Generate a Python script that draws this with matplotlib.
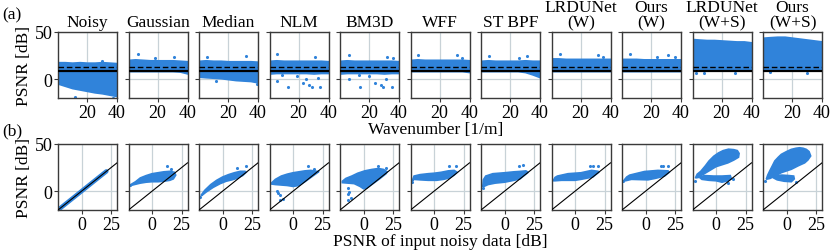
import numpy as np
import matplotlib
matplotlib.use('Agg')
import matplotlib.pyplot as plt

plt.rcParams['font.family'] = ['Liberation Serif', 'DejaVu Serif']
plt.rcParams['mathtext.fontset'] = 'stix'

BLUE = '#3083da'
GRID = '#c8d2d7'
SPINE = '#3a3a3a'

titles = ['Noisy', 'Gaussian', 'Median', 'NLM', 'BM3D', 'WFF', 'ST BPF',
          'LRDUNet\n(W)', 'Ours\n(W)', 'LRDUNet\n(W+S)', 'Ours\n(W+S)']

# ---- row (a): PSNR vs wavenumber, band envelopes
wn = [1, 5, 10, 15, 20, 25, 30, 35, 40]
band_hi = [
    [18, 18, 17.5, 18, 17.5, 17.5, 18, 17.5, 17],
    [20.5, 21, 20.5, 20, 20, 20, 20, 19.5, 19],
    [19.5, 20, 19.5, 19.5, 19, 19, 19, 19, 18.5],
    [19.5, 20, 19.5, 19.5, 19.5, 19.5, 19.5, 19.5, 19],
    [19.5, 20, 19.5, 19.5, 19.5, 19.5, 19.5, 19.5, 19],
    [20.5, 21, 20.5, 20.5, 20.5, 20.5, 20.5, 20.5, 20],
    [19.5, 20, 19.5, 19.5, 19.5, 19.5, 20, 19.5, 19.5],
    [22, 22, 21.5, 21.5, 21.5, 21.5, 21.5, 21.5, 21.5],
    [21.5, 21.5, 21.5, 21, 21, 21, 21, 21, 21],
    [42.5, 42, 41.5, 41.5, 41, 40.5, 40, 40, 39],
    [44, 44.5, 45, 45, 44, 43, 42, 41, 40],
]
band_lo = [
    [-5, -7, -9.5, -11, -12.5, -14, -15, -16.5, -18],
    [8.5, 8.5, 8.5, 8.5, 8.5, 8.5, 8.5, 8, 6],
    [2.5, 2, 1.5, 1, 0, -1, -1.5, -2, -3.5],
    [6, 6.5, 6.5, 6.5, 6.5, 6.5, 6, 6.5, 6.5],
    [6, 6.5, 6.5, 6.5, 6.5, 6.5, 6, 6.5, 6.5],
    [8.5, 8.5, 8.5, 8.5, 8.5, 8.5, 8.5, 8.5, 7.5],
    [8.5, 8.5, 8.5, 8.5, 8.5, 8.5, 7.5, 5, 2],
    [8.5, 8.5, 8.5, 8.5, 8.5, 8.5, 8.5, 8.5, 8.5],
    [8.5, 8.5, 8.5, 8.5, 8.5, 8.5, 8.5, 8.5, 8.5],
    [9.5, 9.5, 9.5, 9.5, 9.5, 9.5, 9.5, 9.5, 9.5],
    [9.5, 9.5, 9.5, 9.5, 9.5, 9.5, 9.5, 9.5, 9.5],
]
out_a = [
    [(30, 19), (12, -19), (37, -20)],
    [(7, 26.5), (31, 23), (18, 22)],
    [(6, 23), (32, 25), (39, -5), (12, -2)],
    [(5.6, 26.5), (31, 23), (13, -8.6), (22.6, -4), (26.7, -6), (28.7, -8.6),
     (34.4, -8.6), (5.6, -1.5), (24.9, 0.6), (32.7, 1.5), (19, 3), (9, 4)],
    [(6.3, 26), (32.3, 24), (36, 22), (14.2, -8.6), (23.7, -4.3), (27.7, -5.7),
     (29.3, -8.6), (35, -8.6), (6.8, -0.2), (31.2, -0.2), (13.5, 4), (20, 3)],
    [(5.7, 26), (31.5, 25.8), (35.3, 22)],
    [(6, 25), (31.6, 25), (26, 22)],
    [(6, 26.5), (31.5, 26), (35, 23)],
    [(6, 26.5), (31.5, 26), (24, 23.5), (36, 23)],
    [(8, 6), (28.7, 6.5), (3, 7)],
    [(5, 7.5), (30, 7)],
]
solid_level = 8.5
dashed_level = 12.5

# ---- row (b): output PSNR vs input PSNR, cloud outlines
noisy_b_in = [-20, 21]
noisy_b_out = [-20, 21]
clouds_b = [
    [],
    [[(-18, 7), (-14, 10), (-10, 14), (-5, 16.5), (0, 18.5), (5, 19.5), (10, 20.5),
      (15, 21), (19, 20), (20, 17), (18, 13), (15, 11.5), (10, 10.5), (5, 10),
      (0, 10), (-5, 9.5), (-10, 8.5), (-15, 7), (-18, 6)]],
    [[(-18, -4), (-15, 1), (-10, 7), (-5, 11.5), (0, 15), (5, 17.5), (10, 19.5),
      (15, 21), (19, 21), (20, 20), (17, 16.5), (12, 13.5), (8, 12), (3, 10.5),
      (-2, 8), (-8, 4), (-14, -1), (-18, -5)]],
    [[(-18, 9), (-15, 12.5), (-10, 16), (-5, 18), (0, 19.5), (5, 20.5), (10, 21.5),
      (15, 22), (20, 21), (22, 21), (20, 19), (15, 14.5), (10, 10), (5, 6),
      (0, 5), (-5, 6), (-10, 6.5), (-15, 7), (-18, 7.5)]],
    [[(-18, 10.5), (-15, 13.5), (-10, 16), (-5, 19), (1, 21.5), (7, 23), (12.5, 24),
      (17, 23), (20, 20.5), (19, 18.5), (14, 13.5), (8, 8), (3, 3.5), (0, 2.5),
      (-3, 5), (-8, 8), (-13, 8.5), (-18, 9)]],
    [[(-18.5, 11), (-17, 16), (-12, 17.5), (-5, 18.5), (0, 19), (6, 20), (12, 21.5),
      (17, 22), (19.5, 20), (17, 17), (13, 14), (8, 12.5), (2, 11.5), (-5, 11.5),
      (-12, 12), (-17, 12.5)]],
    [[(-18.5, 5), (-18, 12), (-16, 16), (-10, 18.5), (0, 19.5), (8, 20.5), (14, 21),
      (18, 21.5), (20, 20), (17, 17), (13, 13), (8, 11.5), (0, 9.5), (-8, 8.5),
      (-14, 7), (-17.5, 5)]],
    [[(-18.6, 11), (-17, 14.5), (-15, 16), (-6, 18.5), (5, 19.5), (14, 22), (19.5, 21),
      (20, 20), (15, 15), (11, 14), (5, 12.5), (0, 11.5), (-11.5, 11.5), (-17, 11)]],
    [[(-18.3, 11.5), (-16, 15), (-13.5, 17), (-1, 20.8), (10.5, 22), (19, 21.5),
      (20, 20), (16, 16), (13, 15), (8, 13.5), (2, 12), (-12, 12.5), (-17, 11)]],
    [[(-17.5, 14), (-16, 18), (-13, 21), (-9, 27), (-6, 32), (-2, 37), (2, 40.5),
      (6, 43), (10.5, 44.5), (15, 44), (18, 43), (19.5, 40), (19, 36), (15, 33),
      (10, 30), (5, 28), (0, 26), (-4, 23), (-8, 20), (-12, 17), (-15, 14.5)],
     [(-14, 14.5), (-10, 16.5), (-2, 16), (5, 16), (12, 16.5), (13, 13), (10, 11),
      (5, 9.5), (0, 11), (-6, 11.5), (-12, 12.5)]],
    [[(-17.2, 12.6), (-16, 17), (-14.3, 21.4), (-12, 27), (-10, 32), (-7, 36),
      (-4.5, 39), (0, 42), (4, 44.3), (8, 45.5), (11, 46), (14, 45.5), (16.7, 44.3),
      (19, 42), (20.4, 37.3), (18, 33), (15.3, 30), (10, 27), (4, 23.2), (0, 21.5),
      (-4.5, 19.6), (-10, 16), (-14, 13.5)],
     [(-10, 16.5), (-4, 17), (2, 16.5), (6, 16), (6.5, 13), (4, 10), (-2, 10.5),
      (-8, 12), (-11, 14)]],
]
out_b = [
    [],
    [(13, 26.5), (16, 24), (-19, 6)],
    [(12.4, 24.5), (19.5, 26.5), (-19, -6)],
    [(-12.8, -2.3), (-11, -4.6), (-8.2, -8.2), (-10.8, -9.7), (-14, 0),
     (12.3, 26.5), (17.4, 24)],
    [(-13, 3.7), (-12.5, -0.6), (-13.6, -3.4), (-10.5, -7.6), (-12.8, -9.7),
     (12.5, 26.5), (19.4, 25)],
    [(13, 26.5), (18.6, 26.5), (-19, 10)],
    [(12, 26.5), (15.4, 27.8), (-18.6, 3.7)],
    [(12.4, 26.5), (15, 26.5), (19.5, 26.5)],
    [(12.8, 26.5), (15, 26.5), (19, 26.5), (-19, 11)],
    [(-18.3, 10.8), (14, 13), (10, 9)],
    [(-18, 11), (8, 9.5)],
]

# ---- layout in pixels (figure 830 x 253)
W, H = 830, 253
left0, step, aw = 58, 70.5, 59
rows_top = [33, 145]
ah = 66

fig = plt.figure(figsize=(W / 100, H / 100), dpi=100)


def style_axes(ax, first):
    ax.set_facecolor('white')
    ax.grid(True, color=GRID, linewidth=0.9)
    ax.set_axisbelow(True)
    for sp in ax.spines.values():
        sp.set_color(SPINE)
        sp.set_linewidth(1.0)
    ax.tick_params(direction='out', length=3, width=0.8, color=SPINE,
                   labelsize=13, pad=1)
    if not first:
        ax.tick_params(axis='y', labelleft=False)


for i in range(11):
    x0 = (left0 + i * step) / W
    # row (a)
    ax = fig.add_axes([x0, 1 - (rows_top[0] + ah) / H, aw / W, ah / H])
    style_axes(ax, i == 0)
    ax.fill_between(wn, band_lo[i], band_hi[i], color=BLUE, linewidth=1.2,
                    edgecolor=BLUE, zorder=2)
    if out_a[i]:
        ox, oy = zip(*out_a[i])
        ax.scatter(ox, oy, s=5, color=BLUE, linewidths=0, zorder=2)
    ax.axhline(solid_level, color='black', linewidth=1.6, zorder=3)
    ax.axhline(dashed_level, color='black', linewidth=1.0, linestyle=(0, (4, 2)), zorder=3)
    ax.set_xlim(0.5, 40)
    ax.set_ylim(-20, 50)
    ax.set_xticks([20, 40])
    ax.set_yticks([0, 50])
    ax.set_title(titles[i], fontsize=12.5, pad=4, linespacing=0.95)
    if i == 0:
        ax.set_ylabel('PSNR [dB]', fontsize=12.5, labelpad=2)

    # row (b)
    bx = fig.add_axes([x0, 1 - (rows_top[1] + ah) / H, aw / W, ah / H])
    style_axes(bx, i == 0)
    if i == 0:
        bx.plot(noisy_b_in, noisy_b_out, color=BLUE, linewidth=3.2,
                solid_capstyle='round', zorder=2)
    for poly in clouds_b[i]:
        px, py = zip(*poly)
        bx.fill(px, py, color=BLUE, linewidth=1.2, edgecolor=BLUE, zorder=2)
    if out_b[i]:
        ox, oy = zip(*out_b[i])
        bx.scatter(ox, oy, s=5, color=BLUE, linewidths=0, zorder=2)
    bx.plot([-20, 30], [-20, 30], color='black', linewidth=0.8, zorder=3)
    bx.set_xlim(-20, 30)
    bx.set_ylim(-20, 50)
    bx.set_xticks([0, 25])
    bx.set_yticks([0, 50])
    if i == 0:
        bx.set_ylabel('PSNR [dB]', fontsize=12.5, labelpad=2)

fig.text(436 / W, 1 - 122 / H, 'Wavenumber [1/m]', fontsize=12.5,
         ha='center', va='top')
fig.text(440 / W, 1 - 234 / H, 'PSNR of input noisy data [dB]', fontsize=12.5,
         ha='center', va='top')
fig.text(2 / W, 1 - 15 / H, '(a)', fontsize=12.5, ha='left', va='center')
fig.text(2 / W, 1 - 131 / H, '(b)', fontsize=12.5, ha='left', va='center')

fig.savefig('out.png', dpi=100)
